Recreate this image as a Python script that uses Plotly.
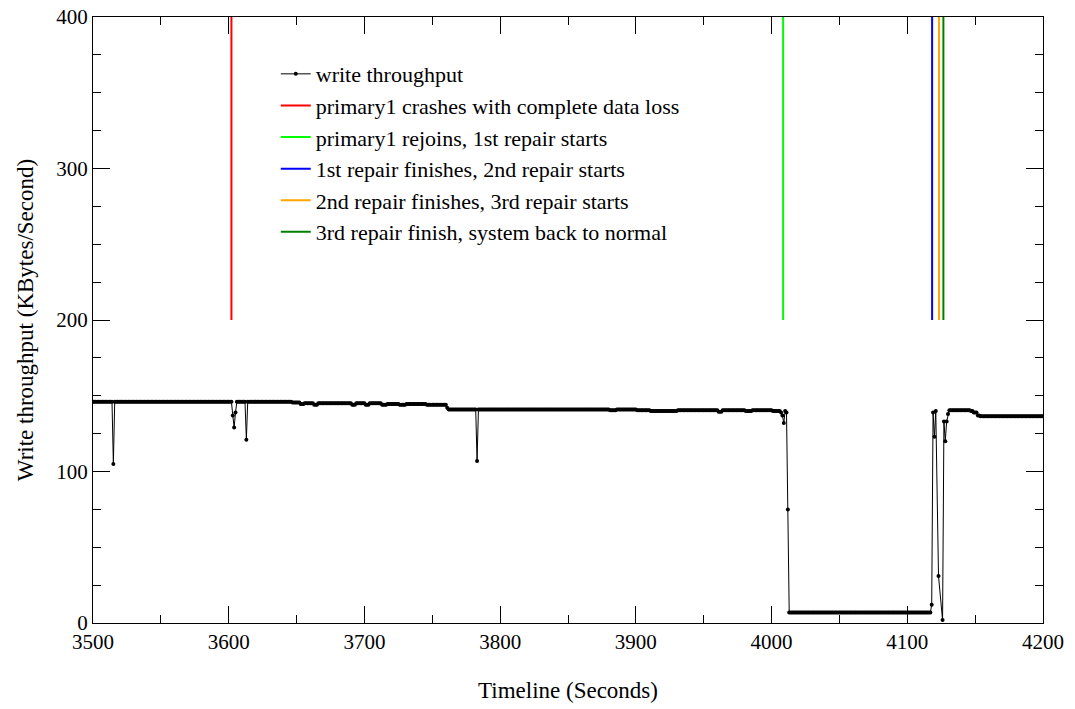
import numpy as np
import plotly.graph_objects as go

# Throughput samples (start s, end s, KB/s)
seg_start = [3500, 3515, 3516, 3603, 3604, 3605, 3606, 3613, 3614, 3647, 3653, 3656, 3663, 3666,
             3691, 3694, 3701, 3704, 3713, 3717, 3726, 3731, 3746, 3761, 3762, 3783, 3784, 3881,
             3886, 3901, 3911, 3931, 3961, 3964, 3981, 3986, 4001, 4007, 4008, 4009, 4010, 4011,
             4012, 4013, 4118, 4119, 4120, 4121, 4123, 4126, 4127, 4128, 4129, 4130, 4131, 4147,
             4149, 4152, 4154]
seg_end = [3514, 3515, 3602, 3603, 3604, 3605, 3612, 3613, 3646, 3652, 3655, 3662, 3665, 3690,
           3693, 3700, 3703, 3712, 3716, 3725, 3730, 3745, 3760, 3761, 3782, 3783, 3880, 3885,
           3900, 3910, 3930, 3960, 3963, 3980, 3985, 4000, 4006, 4007, 4008, 4009, 4010, 4011,
           4012, 4117, 4118, 4119, 4120, 4121, 4123, 4126, 4127, 4128, 4129, 4130, 4146, 4148,
           4151, 4153, 4200]
seg_value = [146, 105, 146, 137, 129, 139, 146, 121, 146, 145.5, 144.5, 145, 144, 145,
             144, 145, 144, 145, 144, 144.5, 144, 144.5, 144, 142, 141, 107, 141, 140.5,
             141, 140.5, 140, 140.5, 139.5, 140.5, 140, 140.5, 140, 139, 137, 132, 140, 139,
             75, 7, 12, 139, 123, 140, 31, 2, 133, 120, 133, 138, 140.5, 140,
             139, 137, 136.5]

# Event markers (time in seconds), drawn from 200 to 400 KB/s
event_names = ["primary1 crashes with complete data loss",
               "primary1 rejoins, 1st repair starts",
               "1st repair finishes, 2nd repair starts",
               "2nd repair finishes, 3rd repair starts",
               "3rd repair finish, system back to normal"]
event_times = [3602, 4008.5, 4118.3, 4123.4, 4126.6]
event_colors = ["#ff0000", "#00ff00", "#0000ff", "#ffa500", "#008000"]
event_y = [200, 400]

x_ticks = [3500, 3600, 3700, 3800, 3900, 4000, 4100, 4200]
y_ticks = [0, 100, 200, 300, 400]

t_vals, v_vals = [], []
for s, e, v in zip(seg_start, seg_end, seg_value):
    for t in range(s, e + 1):
        t_vals.append(t)
        v_vals.append(v)

FONT = "Liberation Serif"
fig = go.Figure()
fig.add_trace(go.Scatter(x=t_vals, y=v_vals, mode="lines+markers", name="write throughput",
                         line=dict(color="black", width=1),
                         marker=dict(color="black", size=4)))
for n, t, c in zip(event_names, event_times, event_colors):
    fig.add_trace(go.Scatter(x=[t, t], y=event_y, mode="lines", name=n,
                             line=dict(color=c, width=2)))

axis_common = dict(showline=True, linecolor="black", linewidth=1, mirror="ticks",
                   ticks="inside", ticklen=17, tickwidth=1, tickcolor="black",
                   showgrid=False, zeroline=False, automargin=False,
                   ticklabeloverflow="allow",
                   tickfont=dict(family=FONT, size=21, color="black"))
fig.update_xaxes(range=[3500, 4200], tickvals=x_ticks,
                 minor=dict(dtick=50, ticks="inside", ticklen=8, tickcolor="black", tickwidth=1),
                 title=dict(text="Timeline (Seconds)", font=dict(family=FONT, size=23, color="black"),
                            standoff=28),
                 **axis_common)
fig.update_yaxes(range=[0, 400], tickvals=y_ticks,
                 minor=dict(dtick=25, ticks="inside", ticklen=8, tickcolor="black", tickwidth=1),
                 title=dict(text="Write throughput (KBytes/Second)",
                            font=dict(family=FONT, size=23, color="black"), standoff=16),
                 **axis_common)
fig.update_layout(width=1075, height=709,
                  margin=dict(l=93, r=32, t=17, b=86, pad=0),
                  paper_bgcolor="white", plot_bgcolor="white",
                  legend=dict(x=0.1924, y=0.9405, xanchor="left", yanchor="top",
                              bgcolor="rgba(0,0,0,0)", borderwidth=0, itemwidth=30,
                              font=dict(family=FONT, size=22, color="black")))
fig.write_html("out.html", config={"displayModeBar": False},
               post_script="document.body.style.margin='0';document.body.style.overflow='hidden';")
